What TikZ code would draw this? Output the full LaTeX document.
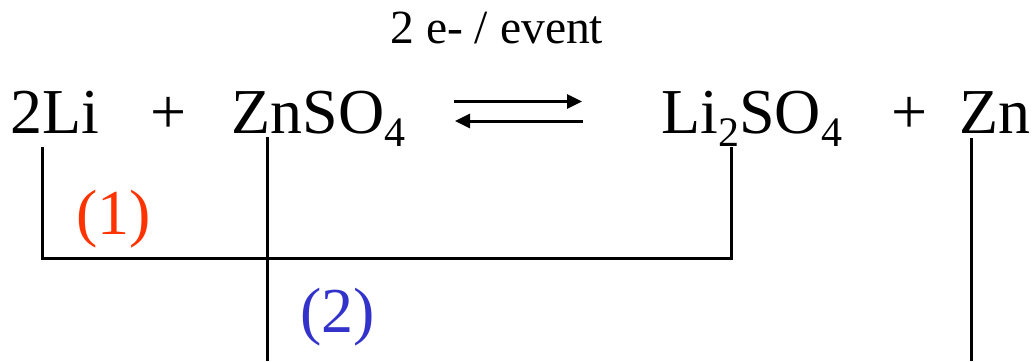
\documentclass[tikz,border=0pt]{standalone}
\usepackage{fontspec}
\setmainfont{Liberation Serif}
\usepackage{tikz}
\usetikzlibrary{arrows.meta}
\definecolor{pathred}{HTML}{FF3300}
\definecolor{pathblue}{HTML}{3333CC}
\newcommand{\chemsub}[1]{\raisebox{-6.7pt}{\fontsize{21pt}{21pt}\selectfont #1}}

\begin{document}
\begin{tikzpicture}[x=0.5pt,y=-0.5pt,
  chem/.style={anchor=base west,inner sep=0pt,font=\fontsize{32pt}{32pt}\selectfont},
  plus/.style={chem,anchor=base},
  note/.style={anchor=base west,inner sep=0pt,font=\fontsize{23.8pt}{23.8pt}\selectfont},
  bond/.style={line width=1.5pt},
  eqarrow/.style={line width=1.5pt,-{Triangle[length=7.5pt,width=7pt]}}]
\useasboundingbox (0,0) rectangle (1035,361);
% equation
\node[chem] (li) at (10,133) {2Li};
\node[plus] (plusa) at (169,133) {+};
\node[chem] (znso) at (231,133) {ZnSO\chemsub{4}};
\node[chem] (liso) at (661,133) {Li\chemsub{2}SO\chemsub{4}};
\node[plus] (plusb) at (910,133) {+};
\node[chem] (zn) at (959,133) {Zn};
\node[note] (event) at (390,43) {2 e- / event};
% equilibrium arrows
\coordinate (fwdA) at (454,101.5);
\coordinate (fwdB) at (582,101.5);
\coordinate (bckA) at (583,121);
\coordinate (bckB) at (455,121);
\draw[eqarrow] (fwdA) -- (fwdB);
\draw[eqarrow] (bckA) -- (bckB);
% path (1)
\coordinate (lifoot) at (42,147);
\coordinate (lisfoot) at (731,147);
\coordinate (bend) at (731,258);
\draw[bond] (lifoot) |- (bend) -- (lisfoot);
\node[chem,text=pathred] (one) at (76,234) {(1)};
% path (2)
\coordinate (znsofoot) at (267,137);
\coordinate (znsoend) at (267,361);
\coordinate (znfoot) at (971,138);
\coordinate (znend) at (971,361);
\draw[bond] (znsofoot) -- (znsoend);
\draw[bond] (znfoot) -- (znend);
\node[chem,text=pathblue] (two) at (300,332) {(2)};
\end{tikzpicture}
\end{document}
